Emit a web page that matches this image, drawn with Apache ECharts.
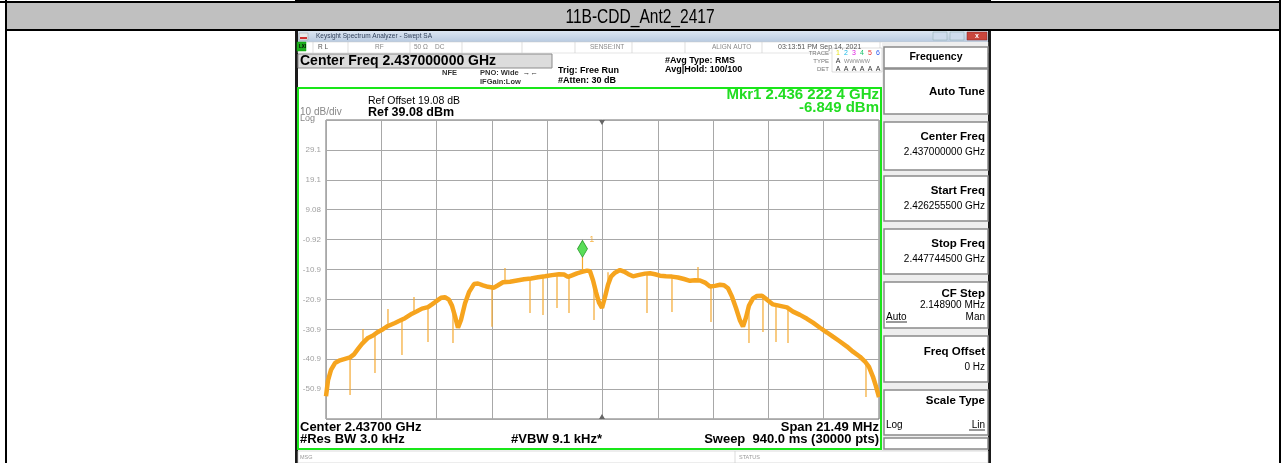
<!DOCTYPE html>
<html><head><meta charset="utf-8">
<script src="https://cdn.jsdelivr.net/npm/echarts@6/dist/echarts.min.js"></script>
<style>html,body{margin:0;padding:0;background:#fff}#c{width:1281px;height:463px}</style>
</head><body><div id="c"></div>
<script>
// ---- data (frequency offset from center, MHz ; level dBm) ----
const title = '11B-CDD_Ant2_2417';
const centerGHz = 2.437;
const spanMHz = 21.489;
const divMHz = 2.1489;
const refLevel = 39.08;
const dbPerDiv = 10;
const yTickLabels = ['', '29.1', '19.1', '9.08', '-0.92', '-10.9', '-20.9', '-30.9', '-40.9', '-50.9', ''];

const traceMHz = [-10.7445,-10.667,-10.55,-10.395,-10.2,-10.006,-9.81,-9.657,-9.5,-9.346,-9.113,-8.919,-8.724,-8.53,-8.336,-8.064,-7.869,-7.675,-7.403,-7.209,-7.014,-6.781,-6.626,-6.47,-6.276,-6.121,-5.966,-5.849,-5.732,-5.616,-5.499,-5.344,-5.188,-4.994,-4.838,-4.644,-4.45,-4.217,-4.061,-3.867,-3.595,-3.323,-3.05,-2.778,-2.506,-2.234,-1.962,-1.69,-1.496,-1.341,-1.185,-0.991,-0.797,-0.602,-0.486,-0.369,-0.253,-0.136,-0.019,0.097,0.214,0.33,0.486,0.68,0.835,0.991,1.185,1.379,1.651,1.846,2.04,2.234,2.467,2.7,2.934,3.167,3.4,3.594,3.789,3.983,4.177,4.372,4.566,4.721,4.877,5.032,5.187,5.343,5.459,5.576,5.692,5.848,6.003,6.197,6.392,6.625,6.897,7.169,7.402,7.674,7.946,8.179,8.451,8.723,8.956,9.228,9.5,9.733,10.005,10.2,10.355,10.511,10.627,10.7445];
const traceDbm = [-53.3,-48.0,-44.5,-42.2,-41.3,-40.8,-40.3,-39.3,-37.5,-35.8,-33.8,-33.0,-31.8,-30.9,-29.8,-28.8,-28.0,-27.2,-25.7,-24.9,-24.0,-23.5,-22.6,-21.6,-20.4,-20.2,-21.0,-23.0,-26.5,-30.4,-27.8,-22.3,-18.5,-15.8,-15.6,-16.2,-16.7,-17.0,-16.2,-15.2,-15.0,-14.6,-14.2,-13.9,-13.5,-13.2,-12.8,-12.5,-12.6,-13.4,-12.9,-12.2,-11.7,-11.3,-11.5,-14.5,-18.5,-22.0,-23.8,-20.1,-16.0,-13.3,-12.0,-11.1,-11.6,-12.4,-13.2,-12.8,-12.3,-12.2,-12.5,-13.0,-13.2,-13.3,-13.6,-14.1,-14.7,-14.5,-14.6,-15.3,-16.6,-16.4,-16.0,-16.2,-17.2,-20.0,-23.8,-28.0,-30.0,-27.0,-23.0,-20.6,-19.8,-19.7,-21.0,-22.6,-23.1,-23.6,-25.0,-26.1,-27.4,-28.7,-30.4,-32.0,-33.4,-35.0,-36.7,-38.4,-40.1,-41.7,-43.5,-46.8,-50.0,-53.6];

// single-sample spikes: frequency, trace level, spike end level
const spikeMHz  = [-9.81,-9.307,-8.841,-8.336,-7.792,-7.325,-6.781,-5.81,-4.294,-3.789,-2.817,-2.312,-1.768,-1.302,-0.7776,-0.33,0.214,1.729,2.70,3.711,4.216,5.692,6.236,6.742,7.208,10.239];
const spikeFrom = [-40.3,-35.5,-32.3,-29.8,-27.8,-25.4,-23.5,-24.0,-16.9,-15.1,-13.9,-13.3,-12.6,-13.3,-11.7,-15.5,-16.0,-12.3,-13.3,-14.6,-16.6,-23.0,-19.8,-22.9,-23.7,-42.0];
const spikeTo   = [-52.9,-30.8,-45.5,-24.1,-39.5,-20.1,-35.2,-35.5,-30.1,-10.4,-25.5,-26.1,-23.8,-25.5,-6.849,-27.8,-11.8,-25.5,-25.1,-10.1,-28.5,-35.5,-31.8,-35.2,-35.5,-53.6];

const markerMHz = -0.7776;
const markerDbm = -6.849;

// ---- build ----
const F = 'Liberation Sans, Arial, sans-serif';
const chart = echarts.init(document.getElementById('c'), null, {renderer: 'canvas'});
const G = [];
function rect(x, y, w, h, fill, stroke, lw, z) { G.push({type:'rect', z: z === undefined ? -10 : z, shape:{x, y, width:w, height:h}, style:{fill: fill || 'none', stroke: stroke || null, lineWidth: lw || 0}, silent:true}); }
function txt(x, y, t, o) { o = o || {}; const e = {type:'text', z: 10, x, y, silent:true, style:{text:t, fill:o.c || '#000', font:(o.w || 'normal') + ' ' + (o.s || 10) + 'px ' + (o.f || F), textAlign:o.a || 'left', textVerticalAlign:'middle'}}; if (o.sx) e.scaleX = o.sx; G.push(e); }
function line(x1, y1, x2, y2, c, lw, z) { G.push({type:'line', z: z === undefined ? -5 : z, silent:true, shape:{x1, y1, x2, y2}, style:{stroke:c, lineWidth:lw}}); }

// page table
rect(0, 0, 1281, 463, '#ffffff', null, 0, -30);
rect(295, 0, 696, 3, '#000', null, 0, -20);
rect(5, 3, 1276, 27, '#c0c0c0', null, 0, -20);
rect(0, 1, 1281, 2, '#000', null, 0, -19);
rect(5, 29, 1276, 2, '#000', null, 0, -19);
rect(5, 0, 2, 463, '#000', null, 0, -19);
rect(1279, 0, 2, 463, '#000', null, 0, -19);
txt(640, 17, title, {s:21, a:'center', sx:0.74});

// instrument screenshot
rect(295, 31, 696, 432, '#ffffff', null, 0, -18);
rect(295, 31, 3, 432, '#1a1a1a', null, 0, -17);
rect(988, 31, 3, 432, '#1a1a1a', null, 0, -17);
G.push({type:'rect', z:-16, silent:true, shape:{x:298, y:31, width:690, height:11}, style:{fill:new echarts.graphic.LinearGradient(0,0,0,1,[{offset:0,color:'#dce6f2'},{offset:1,color:'#b8cae0'}])}});
rect(299, 33, 9, 7, '#e8e8e8', '#999', 0.5, -15);
rect(300, 37, 7, 2, '#d03030', null, 0, -14);
txt(316, 36.5, 'Keysight Spectrum Analyzer - Swept SA', {s:6.5, c:'#30405a'});
rect(933, 32, 14, 8, '#cfdced', '#8aa', 0.5, -15);
rect(950, 32, 14, 8, '#cfdced', '#8aa', 0.5, -15);
rect(967, 32, 20, 8, '#c9463d', '#822', 0.5, -15);
txt(977, 36, 'x', {s:7, c:'#fff', a:'center', w:'bold'});
// status row
rect(298, 42, 690, 11, '#ffffff', '#c8c8c8', 0.5, -15);
rect(297, 42, 9, 9, '#1fae1f', '#0a0', 0.5, -14);
txt(299, 46.5, 'LXI', {s:4.5, c:'#000', w:'bold'});
[313, 348, 410, 462, 522, 575, 632, 685, 762, 880].forEach(x => line(x, 42, x, 53, '#d0d0d0', 0.7, -14));
txt(318, 47, 'R L', {s:6.5, c:'#555'});
txt(375, 47, 'RF', {s:6.5, c:'#888'});
txt(414, 47, '50 Ω    DC', {s:6.5, c:'#888'});
txt(590, 47, 'SENSE:INT', {s:6.5, c:'#888'});
txt(712, 47, 'ALIGN AUTO', {s:6.5, c:'#888'});
txt(778, 47, '03:13:51 PM Sep 14, 2021', {s:7, c:'#555'});
// center freq box
rect(298, 54, 254, 14, '#dcdcdc', '#8c8c8c', 1, -14);
txt(300, 61.5, 'Center Freq 2.437000000 GHz', {s:14, w:'bold'});
txt(442, 73, 'NFE', {s:7.5, w:'bold', c:'#333'});
txt(480, 73, 'PNO: Wide  →←', {s:7.5, w:'bold', c:'#333'});
txt(480, 82, 'IFGain:Low', {s:7.5, w:'bold', c:'#333'});
txt(558, 71, 'Trig: Free Run', {s:9, w:'bold'});
txt(558, 81, '#Atten: 30 dB', {s:9, w:'bold'});
txt(665, 61, '#Avg Type: RMS', {s:9, w:'bold'});
txt(665, 70, 'Avg|Hold: 100/100', {s:9, w:'bold'});
rect(832, 48, 50, 24, '#ffffff', '#bbb', 0.5, -14);
txt(829, 53, 'TRACE', {s:6, c:'#777', a:'right'});
txt(829, 61, 'TYPE', {s:6, c:'#777', a:'right'});
txt(829, 69, 'DET', {s:6, c:'#777', a:'right'});
const trColors = ['#e6e21a', '#1ab8e6', '#e01ae0', '#1ac06a', '#ee2c2c', '#2c58ee'];
trColors.forEach((c, i) => txt(838 + i * 8, 53, String(i + 1), {s:7, c, a:'center'}));
txt(838, 61, 'A', {s:7, c:'#333', a:'center'});
txt(844, 61, 'WWWWW', {s:5.5, c:'#888'});
trColors.forEach((c, i) => txt(838 + i * 8, 69, 'A', {s:7, c:'#333', a:'center'}));

// right soft-key panel
rect(882, 42, 106, 421, '#eeeeee', null, 0, -15);
rect(884, 47, 104, 21, '#ffffff', '#8a8a8a', 1.5, -14);
txt(936, 57.5, 'Frequency', {s:10.5, w:'bold', a:'center'});
const keys = [
  {y:69, h:45, t:'Auto Tune', ty:92},
  {y:122, h:48, t:'Center Freq', ty:137, v:'2.437000000 GHz', vy:152},
  {y:176, h:45, t:'Start Freq', ty:191, v:'2.426255500 GHz', vy:206},
  {y:229, h:45, t:'Stop Freq', ty:244, v:'2.447744500 GHz', vy:259},
  {y:282, h:46, t:'CF Step', ty:294, v:'2.148900 MHz', vy:305},
  {y:336, h:46, t:'Freq Offset', ty:352, v:'0 Hz', vy:367},
  {y:390, h:45, t:'Scale Type', ty:401},
  {y:438, h:11}
];
keys.forEach(k => {
  rect(884, k.y, 104, k.h, '#ffffff', '#8a8a8a', 1.5, -14);
  if (k.t) txt(985, k.ty, k.t, {s:11.5, w:'bold', a:'right'});
  if (k.v) txt(985, k.vy, k.v, {s:10, a:'right'});
});
txt(886, 317, 'Auto', {s:10});
line(886, 322, 907, 322, '#000', 0.8, 11);
txt(985, 317, 'Man', {s:10, a:'right'});
txt(886, 425, 'Log', {s:10});
txt(985, 425, 'Lin', {s:10, a:'right'});
line(969, 430, 985, 430, '#000', 0.8, 11);

// green measurement frame + annotations
rect(298, 88, 583, 361, 'none', '#19e619', 2, 5);
txt(368, 101, 'Ref Offset 19.08 dB', {s:10.5});
txt(368, 112.5, 'Ref 39.08 dBm', {s:12.5, w:'bold'});
txt(300, 112.5, '10 dB/div', {s:10, c:'#888'});
txt(300, 119, 'Log', {s:9, c:'#888'});
txt(879, 95, 'Mkr1 2.436 222 4 GHz', {s:15, w:'bold', c:'#22dd22', a:'right'});
txt(879, 108, '-6.849 dBm', {s:15, w:'bold', c:'#22dd22', a:'right'});
txt(300, 427, 'Center 2.43700 GHz', {s:13, w:'bold'});
txt(300, 439, '#Res BW 3.0 kHz', {s:13, w:'bold'});
txt(511, 439, '#VBW 9.1 kHz*', {s:13, w:'bold'});
txt(879, 427, 'Span 21.49 MHz', {s:13, w:'bold', a:'right'});
txt(879, 439, 'Sweep  940.0 ms (30000 pts)', {s:13, w:'bold', a:'right'});
rect(298, 451, 690, 12, '#ffffff', '#cccccc', 0.7, -14);
line(735, 451, 735, 463, '#ccc', 0.7, -13);
txt(300, 457, 'MSG', {s:5.5, c:'#999'});
txt(739, 457, 'STATUS', {s:5.5, c:'#999'});
// center ticks
G.push({type:'polygon', z:6, silent:true, shape:{points:[[599,120],[605,120],[602,125]]}, style:{fill:'#666'}});
G.push({type:'polygon', z:6, silent:true, shape:{points:[[599,419],[605,419],[602,414]]}, style:{fill:'#666'}});

const traceData = traceMHz.map((x, i) => [x, traceDbm[i]]);
const spikeData = spikeMHz.map((x, i) => [x, spikeFrom[i], spikeTo[i]]);

const option = {
  animation: false,
  backgroundColor: 'transparent',
  graphic: {elements: G},
  grid: {left: 326, top: 120, width: 553, height: 299, show: true, borderColor: '#6f6f6f', borderWidth: 1, backgroundColor: 'transparent'},
  xAxis: {
    type: 'value', min: -spanMHz / 2, max: spanMHz / 2, interval: divMHz,
    axisLine: {show: false}, axisTick: {show: false}, axisLabel: {show: false},
    splitLine: {show: true, lineStyle: {color: '#a8a8a8', width: 1}}
  },
  yAxis: [
    {
      type: 'value', min: -10 * dbPerDiv, max: 0, interval: dbPerDiv,
      axisLine: {show: false}, axisTick: {show: false},
      axisLabel: {show: true, margin: 5, fontSize: 8, color: '#a0a0a0', fontFamily: F,
        formatter: v => yTickLabels[Math.round(-v / dbPerDiv)]},
      splitLine: {show: true, lineStyle: {color: '#a8a8a8', width: 1}}
    },
    {type: 'value', min: refLevel - 10 * dbPerDiv, max: refLevel, show: false, splitLine: {show: false}}
  ],
  series: [
    {
      type: 'custom', yAxisIndex: 1, z: 3,
      encode: {x: 0, y: [1, 2]},
      data: spikeData,
      renderItem: (params, api) => {
        const a = api.coord([api.value(0), api.value(1)]);
        const b = api.coord([api.value(0), api.value(2)]);
        return {type: 'line', shape: {x1: a[0], y1: a[1], x2: b[0], y2: b[1]}, style: {stroke: '#f4a830', lineWidth: 1.2}};
      }
    },
    {
      type: 'line', yAxisIndex: 1, z: 4, data: traceData, symbol: 'none', smooth: false,
      lineStyle: {color: '#f6a41e', width: 4.5}
    },
    {
      type: 'scatter', yAxisIndex: 1, z: 6, data: [[markerMHz, markerDbm]],
      symbol: 'diamond', symbolSize: [10, 17], symbolOffset: [0, -8.5],
      itemStyle: {color: '#2fd62f', borderColor: '#148a14', borderWidth: 0.8},
      label: {show: true, formatter: '1', position: [12, -5], color: '#f5a21c', fontSize: 9, fontFamily: F}
    }
  ]
};
chart.setOption(option);
</script></body></html>
